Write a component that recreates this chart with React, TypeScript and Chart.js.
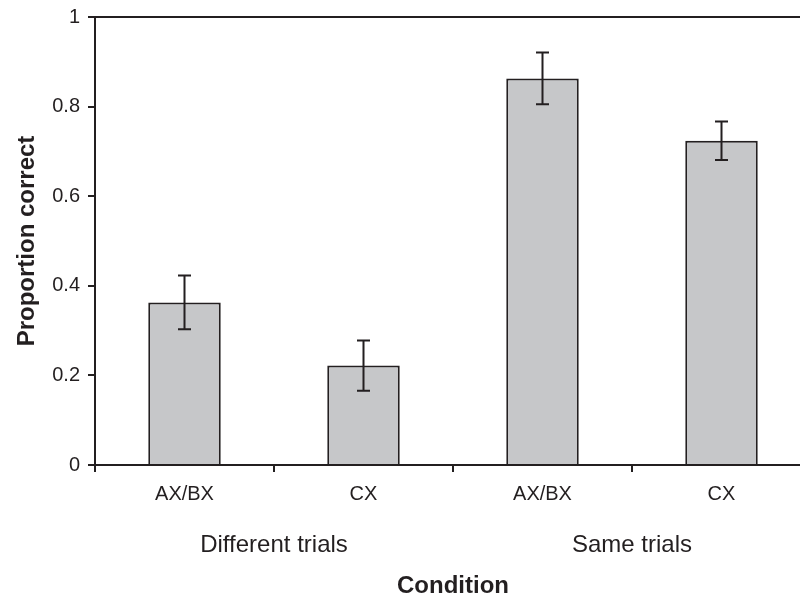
import React, { useEffect, useRef } from "react";
import { Chart, registerables } from "chart.js";

Chart.register(...registerables);

const categories = ["AX/BX", "CX", "AX/BX", "CX"];
const groups = ["Different trials", "Same trials"];
const values = [0.363, 0.222, 0.863, 0.724];
const errors = [0.06, 0.056, 0.058, 0.043];
const yTicks = [0, 0.2, 0.4, 0.6, 0.8, 1];

const INK = "#231f20";
const FILL = "#c6c7c9";
const FONT = "'Liberation Sans', Arial, sans-serif";

const errorBarPlugin = {
  id: "errorBars",
  afterDatasetsDraw(chart: any) {
    const meta = chart.getDatasetMeta(0);
    const y = chart.scales.y;
    const ctx = chart.ctx;
    ctx.save();
    ctx.strokeStyle = INK;
    ctx.lineWidth = 2;
    meta.data.forEach((bar: any, i: number) => {
      const x = bar.x;
      const top = y.getPixelForValue(values[i] + errors[i]);
      const bot = y.getPixelForValue(values[i] - errors[i]);
      ctx.beginPath();
      ctx.moveTo(x, top);
      ctx.lineTo(x, bot);
      ctx.moveTo(x - 6.5, top);
      ctx.lineTo(x + 6.5, top);
      ctx.moveTo(x - 6.5, bot);
      ctx.lineTo(x + 6.5, bot);
      ctx.stroke();
    });
    ctx.restore();
  },
};

export default function App() {
  const ref = useRef<HTMLCanvasElement>(null);
  useEffect(() => {
    if (!ref.current) return;
    const chart = new Chart(ref.current, {
      type: "bar",
      data: {
        labels: categories,
        datasets: [
          {
            data: values,
            backgroundColor: FILL,
            borderColor: INK,
            borderWidth: 2,
            barPercentage: 1,
            categoryPercentage: 0.405,
            xAxisID: "x",
            yAxisID: "y",
          },
        ],
      },
      options: {
        responsive: false,
        animation: false,
        devicePixelRatio: 1,
        layout: { padding: { left: 0, right: 19, top: 0, bottom: 0 } },
        plugins: { legend: { display: false }, tooltip: { enabled: false } },
        scales: {
          y: {
            position: "left",
            min: 0,
            max: 1,
            afterBuildTicks: (s: any) => {
              s.ticks = yTicks.map((v) => ({ value: v }));
            },
            afterFit: (s: any) => {
              s.width = 95;
              s.paddingTop = 0;
              s.paddingBottom = 0;
            },
            ticks: {
              color: INK,
              font: { family: FONT, size: 20 },
              padding: 8,
              callback: (v: any) => String(Number(v)),
            },
            grid: {
              drawOnChartArea: false,
              tickLength: 7,
              color: INK,
              lineWidth: 2,
            },
            border: { display: true, color: INK, width: 2 },
            title: {
              display: true,
              text: "Proportion correct",
              color: INK,
              font: { family: FONT, size: 24, weight: "bold" },
              padding: { top: 13, bottom: 0 },
            },
          },
          x: {
            type: "category",
            position: "bottom",
            weight: 0,
            offset: true,
            afterFit: (s: any) => {
              s.height = 45;
            },
            ticks: {
              color: INK,
              font: { family: FONT, size: 20 },
              padding: 10,
              maxRotation: 0,
            },
            grid: {
              offset: true,
              drawOnChartArea: false,
              tickLength: 7,
              color: INK,
              lineWidth: 2,
            },
            border: { display: true, color: INK, width: 2 },
          },
          xGroup: {
            type: "category",
            position: "bottom",
            weight: 1,
            labels: groups,
            offset: true,
            afterFit: (s: any) => {
              s.height = 88;
            },
            ticks: {
              color: INK,
              font: { family: FONT, size: 24 },
              padding: 13,
              maxRotation: 0,
            },
            grid: { display: false },
            border: { display: false },
            title: {
              display: true,
              text: "Condition",
              color: INK,
              font: { family: FONT, size: 24, weight: "bold" },
              padding: { top: 0, bottom: -3 },
            },
          },
          xTop: {
            type: "category",
            position: "top",
            labels: categories,
            offset: true,
            afterFit: (s: any) => {
              s.height = 17;
            },
            ticks: { display: false },
            grid: { display: false },
            border: { display: true, color: INK, width: 2 },
          },
        },
      } as any,
      plugins: [errorBarPlugin],
    });
    return () => chart.destroy();
  }, []);
  return (
    <div
      style={{
        position: "fixed",
        left: 0,
        top: 0,
        width: 800,
        height: 598,
        overflow: "hidden",
        background: "#fff",
      }}
    >
      <canvas ref={ref} width={830} height={598} style={{ display: "block" }} />
    </div>
  );
}
